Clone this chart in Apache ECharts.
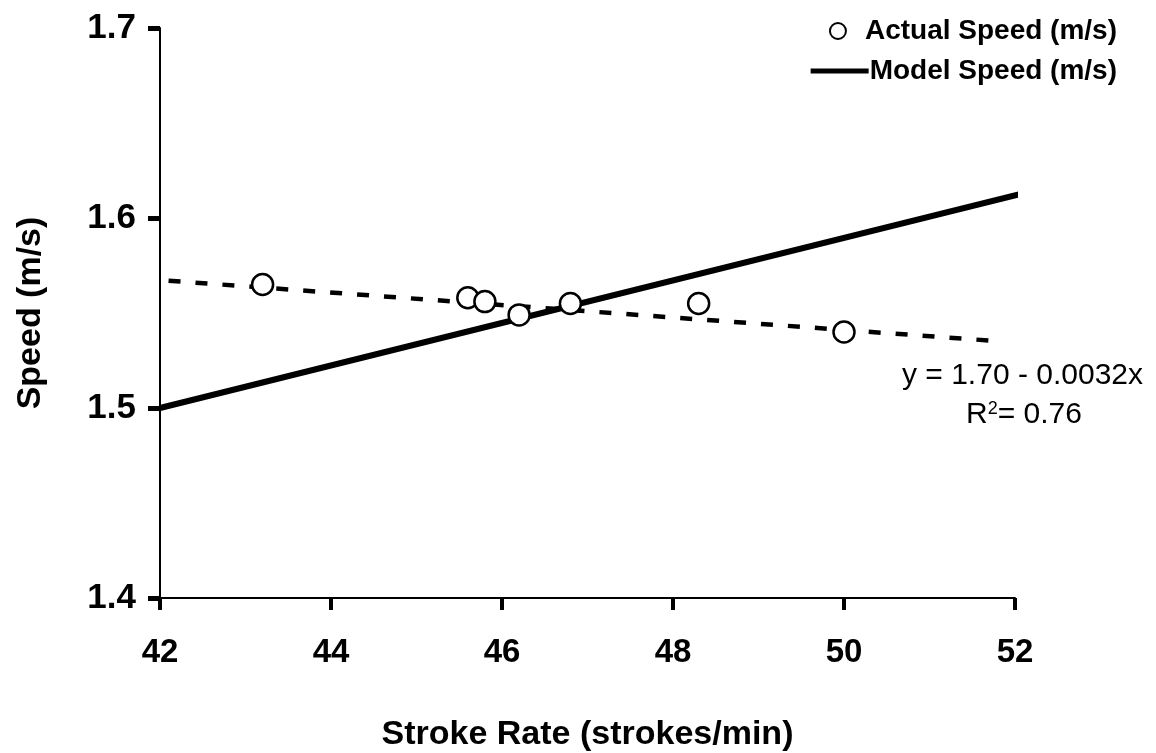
<!DOCTYPE html>
<html>
<head>
<meta charset="utf-8">
<script src="https://cdn.jsdelivr.net/npm/echarts@6/dist/echarts.min.js"></script>
<style>
html,body{margin:0;padding:0;background:#fff;}
#myChart{width:1156px;height:753px;}
</style>
</head>
<body>
<div id="myChart"></div>
<script>
// 实测速度
const actualX = [43.2, 45.6, 45.8, 46.2, 46.8, 48.3, 50.0];
const actualY = [1.565, 1.558, 1.556, 1.549, 1.555, 1.555, 1.540];
// 模型速度
const modelX = [42, 52.1];
const modelY = [1.500, 1.613];
// 趋势线 y = 1.70 - 0.0032x
const trendX = [42.1, 51.85];
const trendY = [1.567, 1.535];
const xTicks = [42, 44, 46, 48, 50, 52];
const yTicks = [1.4, 1.5, 1.6, 1.7];

const zip = (xs, ys) => xs.map((x, i) => [x, ys[i]]);
const FONT = 'Liberation Sans';

const myChart = echarts.init(document.getElementById('myChart'));
const option = {
    backgroundColor: '#fff',
    animation: false,
    grid: { left: 160, right: 141, top: 28, bottom: 155, outerBoundsMode: 'none' },
    legend: [
        {
            data: ['Actual Speed (m/s)'],
            right: 34, top: 12,
            itemWidth: 16, itemHeight: 16, itemGap: 0,
            textStyle: { fontFamily: FONT, fontWeight: 'bold', fontSize: 28, color: '#000', padding: [0, 0, 0, 14] }
        },
        {
            data: [{ name: 'Model Speed (m/s)', icon: 'rect' }],
            right: 34, top: 52,
            itemWidth: 58, itemHeight: 5, itemGap: 0,
            textStyle: { fontFamily: FONT, fontWeight: 'bold', fontSize: 28, color: '#000', padding: [0, 0, 0, -4] }
        }
    ],
    xAxis: {
        type: 'value',
        min: 42, max: 52, interval: 2,
        name: 'Stroke Rate (strokes/min)',
        nameLocation: 'middle', nameGap: 120,
        nameTextStyle: { fontFamily: FONT, fontWeight: 'bold', fontSize: 34, color: '#000' },
        axisLine: { lineStyle: { color: '#000', width: 2 } },
        axisTick: { length: 12, lineStyle: { color: '#000', width: 4 } },
        axisLabel: {
            margin: 38, fontFamily: FONT, fontWeight: 'bold', fontSize: 33, color: '#000',
            formatter: v => xTicks.includes(v) ? String(v) : ''
        },
        splitLine: { show: false }
    },
    yAxis: {
        type: 'value',
        min: 1.4, max: 1.7, interval: 0.1,
        name: 'Speed (m/s)',
        nameLocation: 'middle', nameGap: 112,
        nameTextStyle: { fontFamily: FONT, fontWeight: 'bold', fontSize: 34, color: '#000' },
        axisLine: { show: true, lineStyle: { color: '#000', width: 2 } },
        axisTick: { show: true, length: 12, lineStyle: { color: '#000', width: 5 } },
        axisLabel: {
            margin: 24, fontFamily: FONT, fontWeight: 'bold', fontSize: 35, color: '#000',
            formatter: v => {
                const t = yTicks.find(y => Math.abs(y - v) < 1e-6);
                return t !== undefined ? t.toFixed(1) : '';
            }
        },
        splitLine: { show: false }
    },
    series: [
        {
            name: 'trend',
            type: 'line',
            data: zip(trendX, trendY),
            symbol: 'none',
            lineStyle: { color: '#000', width: 4.5, type: [12, 15] },
            z: 1
        },
        {
            name: 'Model Speed (m/s)',
            type: 'line',
            data: zip(modelX, modelY),
            symbol: 'none',
            itemStyle: { color: '#000' },
            lineStyle: { color: '#000', width: 6 },
            z: 2
        },
        {
            name: 'Actual Speed (m/s)',
            type: 'scatter',
            data: zip(actualX, actualY),
            symbol: 'circle',
            symbolSize: 21,
            itemStyle: { color: '#fff', borderColor: '#000', borderWidth: 2.5, opacity: 1 },
            z: 3
        }
    ],
    graphic: [
        {
            type: 'text', left: 902, top: 361,
            style: { text: 'y = 1.70 - 0.0032x', fontFamily: FONT, fontSize: 30, fill: '#000' }
        },
        {
            type: 'text', left: 966, top: 400,
            style: {
                text: 'R{s|2}= 0.76',
                rich: { s: { fontSize: 18, verticalAlign: 'top', padding: [0, 0, 12, 0] } },
                fontFamily: FONT, fontSize: 30, fill: '#000'
            }
        }
    ]
};
myChart.setOption(option);
</script>
</body>
</html>
